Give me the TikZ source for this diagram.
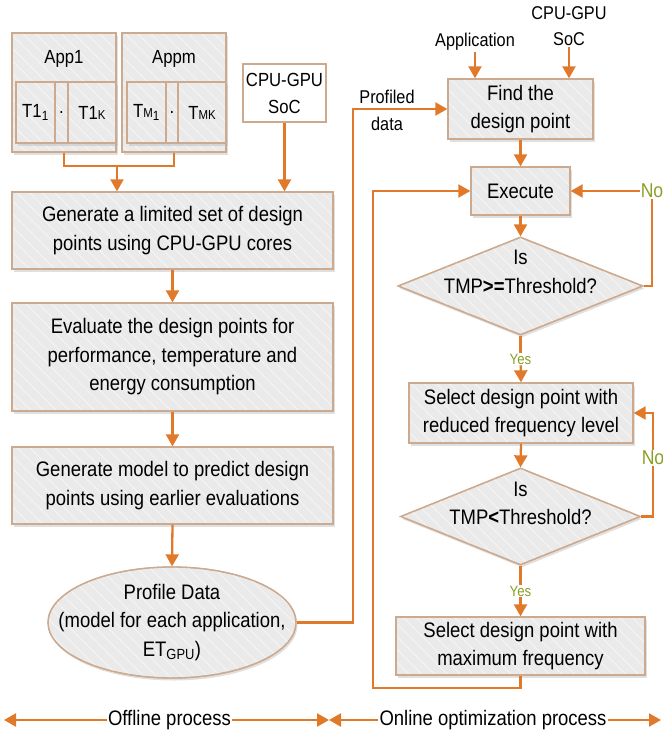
\documentclass[tikz,border=0pt]{standalone}
\usepackage{fontspec}
\setmainfont{Liberation Sans}[FakeStretch=0.88]
\usetikzlibrary{arrows.meta,shapes.geometric,shadows,patterns.meta}

\definecolor{flowor}{RGB}{224,122,42}
\definecolor{boxedge}{RGB}{205,170,142}
\definecolor{boxfill}{RGB}{234,234,234}
\definecolor{ansgreen}{RGB}{138,160,40}
\newcommand{\fsz}[2]{\fontsize{#1}{#2}\selectfont}
\newcommand{\sm}[1]{{\fsz{13}{13}#1}}

\tikzset{
  box/.style={draw=boxedge, line width=1.3pt, fill=boxfill, align=center, inner sep=0pt,
    drop shadow={shadow xshift=1.5pt, shadow yshift=-2.5pt, fill=black!30, opacity=.4},
    postaction={pattern={Lines[angle=-45,distance=9pt,line width=0.7pt]}, pattern color=white!60!boxfill},
    postaction={draw=boxedge, line width=1.3pt},
    font=\fsz{21}{28.5}},
  tbox/.style={box, font=\fsz{19}{24}, minimum height=61pt},
  plain/.style={draw=boxedge, line width=1.3pt, fill=white, align=center, inner sep=0pt, font=\fsz{19}{27}},
  note/.style={align=center, inner sep=1pt, font=\fsz{18.5}{26}},
  intext/.style={align=center, inner sep=0pt, font=\fsz{21}{28.5}},
  flow/.style={draw=flowor, line width=2.3pt},
  arrow/.style={flow, -{Triangle[length=12pt,width=13pt]}},
  ans/.style={fill=white, inner sep=1pt, text=ansgreen},
}

\begin{document}
\begin{tikzpicture}[x=1pt,y=-1pt]
  \useasboundingbox (0,0) rectangle (663,736);

  \node[box, minimum width=104pt, minimum height=119pt,
    label={[font=\fsz{19}{24}, anchor=north, yshift=-18pt, inner sep=0pt]north:App1}] (app1) at (64,92.5) {};
  \node[tbox, minimum width=39pt] (t11) at (35.5,112.5) {T1\textsubscript{1}};
  \node[tbox, minimum width=13pt] (t1dot) at (61.5,112.5) {.};
  \node[tbox, minimum width=48pt] (t1k) at (92,112.5) {T1\sm{K}};
  \node[box, minimum width=104pt, minimum height=119pt,
    label={[font=\fsz{19}{24}, anchor=north, yshift=-18pt, inner sep=0pt]north:Appm}] (appm) at (174,92.5) {};
  \node[tbox, minimum width=39pt] (tm1) at (146.5,112.5) {T\sm{M}\textsubscript{1}};
  \node[tbox, minimum width=12pt] (tmdot) at (172,112.5) {.};
  \node[tbox, minimum width=48pt] (tmk) at (202,112.5) {T\sm{MK}};
  \node[plain, minimum width=83pt, minimum height=58pt] (soc) at (284.5,93) {CPU-GPU\\SoC};

  \node[box, minimum width=321pt, minimum height=77pt] (gen) at (172.5,230.5)
    {Generate a limited set of design\\points using CPU-GPU cores};
  \node[box, minimum width=321pt, minimum height=108pt] (eval) at (172.5,357)
    {Evaluate the design points for\\performance, temperature and\\energy consumption};
  \node[box, minimum width=321pt, minimum height=77pt] (model) at (172.5,485.5)
    {Generate model to predict design\\points using earlier evaluations};
  \node[box, ellipse, minimum width=248pt, minimum height=111pt,
    label={[intext]center:{Profile Data\\(model for each application,\\ET\textsubscript{GPU})}}] (profile) at (172,622.5) {};

  \coordinate (apps) at (117,166);
  \draw[flow] (app1.south) |- (apps) -| (appm.south);
  \draw[arrow] (apps) -- (apps |- gen.north);
  \draw[arrow] (soc.south) -- (soc.south |- gen.north);
  \draw[arrow] (gen.south) -- (eval.north);
  \draw[arrow] (eval.south) -- (model.north);
  \draw[arrow] (model.south) -- (profile.north);

  \node[note] (appin) at (475,42) {Application};
  \node[note] (socin) at (569,26) {CPU-GPU\\SoC};
  \node[note, font=\fsz{18.5}{27}] (pdata) at (387,110) {Profiled\\data};
  \node[box, minimum width=145pt, minimum height=60pt] (find) at (520.5,109) {Find the\\design point};
  \node[box, minimum width=99pt, minimum height=48pt] (exec) at (520.5,191) {Execute};
  \node[box, diamond, minimum width=245pt, minimum height=98pt,
    label={[intext, yshift=14pt]center:{Is\\TMP\textbf{>=}Threshold?}}] (dia1) at (520.5,286) {};
  \node[box, minimum width=224pt, minimum height=60pt] (sel1) at (521,413)
    {Select design point with\\reduced frequency level};
  \node[box, diamond, minimum width=240pt, minimum height=97pt,
    label={[intext, yshift=13pt]center:{Is\\TMP\textbf{<}Threshold?}}] (dia2) at (520.5,516.5) {};
  \node[box, minimum width=249pt, minimum height=58pt] (sel2) at (520.5,646)
    {Select design point with\\maximum frequency};

  \node[ans, font=\fsz{20}{20}] (no1) at (652,191) {No};
  \node[ans, font=\fsz{20}{20}] (no2) at (653,458) {No};
  \node[ans, font=\fsz{15}{15}] (yes1) at (520.5,359) {Yes};
  \node[ans, font=\fsz{15}{15}] (yes2) at (520.5,591) {Yes};

  \draw[arrow] (appin.south) -- (appin.south |- find.north);
  \draw[arrow] (socin.south) -- (socin.south |- find.north);
  \draw[arrow] (profile.east) -- ++(56,0) |- (find.west);
  \draw[arrow] (find.south) -- (exec.north);
  \draw[arrow] (exec.south) -- (dia1.north);
  \draw[flow] (dia1.east) -| (no1);
  \draw[arrow] (no1) -- (exec.east);
  \draw[flow] (dia1.south) -- (yes1);
  \draw[arrow] (yes1) -- (sel1.north);
  \draw[arrow] (sel1.south) -- (dia2.north);
  \draw[flow] (dia2.east) -| (no2);
  \draw[arrow] (no2) |- (sel1.east);
  \draw[flow] (dia2.south) -- (yes2);
  \draw[arrow] (yes2) -- (sel2.north);
  \coordinate (loopc) at (373,688);
  \draw[arrow] (sel2.south) |- (loopc) |- (exec.west);

  \coordinate (offl) at (4,720);
  \coordinate (split) at (329,720);
  \coordinate (onr) at (661,720);
  \node[note, font=\fsz{21}{24}] (offtxt) at (169.5,720) {Offline process};
  \node[note, font=\fsz{21}{24}] (ontxt) at (493,720) {Online optimization process};
  \draw[arrow] (offtxt) -- (offl);
  \draw[arrow] (offtxt) -- (split);
  \draw[arrow] (ontxt) -- (split);
  \draw[arrow] (ontxt) -- (onr);
\end{tikzpicture}
\end{document}
